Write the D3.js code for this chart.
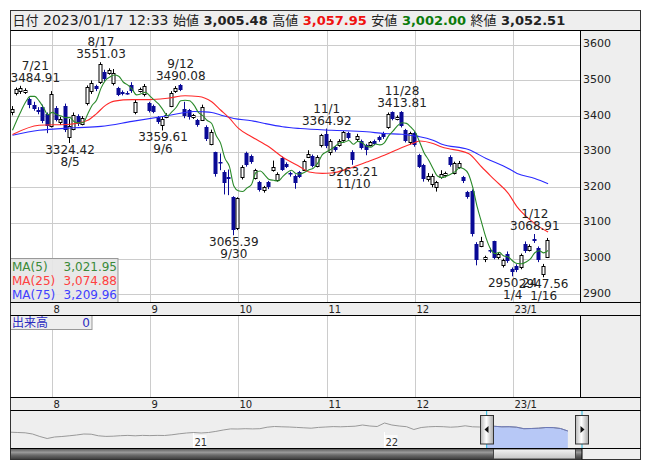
<!DOCTYPE html>
<html><head><meta charset="utf-8">
<script src="https://cdn.jsdelivr.net/npm/d3@7"></script>
<style>
body{margin:0;background:#fff;}
text{font-family:"DejaVu Sans","Noto Sans CJK JP",sans-serif;}
</style></head><body>
<svg id="c" width="653" height="470"></svg>
<script>
// ---------------- DATA ----------------
const dates = [
"2022-07-19","2022-07-20","2022-07-21","2022-07-22","2022-07-25","2022-07-26","2022-07-27","2022-07-28","2022-07-29",
"2022-08-01","2022-08-02","2022-08-03","2022-08-04","2022-08-05","2022-08-08","2022-08-09","2022-08-10","2022-08-12","2022-08-15","2022-08-16","2022-08-17","2022-08-18","2022-08-19","2022-08-22","2022-08-23","2022-08-24","2022-08-25","2022-08-26","2022-08-29","2022-08-30","2022-08-31",
"2022-09-01","2022-09-02","2022-09-05","2022-09-06","2022-09-07","2022-09-08","2022-09-09","2022-09-12","2022-09-13","2022-09-14","2022-09-15","2022-09-16","2022-09-20","2022-09-21","2022-09-22","2022-09-26","2022-09-27","2022-09-28","2022-09-29","2022-09-30",
"2022-10-03","2022-10-04","2022-10-05","2022-10-06","2022-10-07","2022-10-11","2022-10-12","2022-10-13","2022-10-14","2022-10-17","2022-10-18","2022-10-19","2022-10-20","2022-10-21","2022-10-24","2022-10-25","2022-10-26","2022-10-27","2022-10-28","2022-10-31",
"2022-11-01","2022-11-02","2022-11-04","2022-11-07","2022-11-08","2022-11-09","2022-11-10","2022-11-11","2022-11-14","2022-11-15","2022-11-16","2022-11-17","2022-11-18","2022-11-21","2022-11-22","2022-11-24","2022-11-25","2022-11-28","2022-11-29","2022-11-30",
"2022-12-01","2022-12-02","2022-12-05","2022-12-06","2022-12-07","2022-12-08","2022-12-09","2022-12-12","2022-12-13","2022-12-14","2022-12-15","2022-12-16","2022-12-19","2022-12-20","2022-12-21","2022-12-22","2022-12-23","2022-12-26","2022-12-27","2022-12-28","2022-12-29","2022-12-30",
"2023-01-04","2023-01-05","2023-01-06","2023-01-10","2023-01-11","2023-01-12","2023-01-13","2023-01-16","2023-01-17"];

const opens = [3412,3465,3470,3468,3448,3432,3418,3425,3405,
3372,3422,3382,3428,3340,3365,3400,3378,3436,3470,3484,3495,3525,3522,3492,3478,3468,3466,3488,3410,3470,3462,
3436,3428,3397,3376,3398,3428,3470,3486,3420,3416,3396,3388,3390,3370,3322,3298,3272,3242,3228,3172,
3085,3228,3296,3288,3226,3214,3192,3214,3248,3220,3282,3266,3240,3232,3242,3250,3285,3288,3260,3318,
3350,3298,3312,3318,3332,3352,3300,3335,3330,3318,3320,3330,3340,3352,3368,3410,3392,3412,3360,3328,
3352,3290,3262,3222,3208,3200,3228,3234,3285,3240,3258,3228,3186,3190,3042,3036,2998,3024,3048,3004,2982,3012,
2970,2980,2975,3040,3024,3055,3030,2958,3005.48];
const highs = [3428,3480,3484.91,3478,3452,3440,3425,3432,3410,
3470,3428,3398,3435,3392,3410,3405,3400,3486,3500,3488,3551.03,3530,3534,3532,3482,3472,3470,3495,3445,3480,3490,
3440,3432,3400,3398,3408,3470,3484,3490.08,3440,3420,3406,3392,3432,3374,3362,3300,3295,3248,3250,3175,
3172,3262,3300,3292,3252,3218,3204,3218,3275,3242,3286,3270,3244,3236,3246,3278,3304,3292,3290,3350,
3364.92,3335,3316,3335,3358,3356,3304,3350,3334,3322,3330,3334,3345,3356,3410,3413,3402,3413.81,3364,3356,
3356,3294,3266,3240,3238,3218,3248,3244,3290,3272,3274,3232,3190,3194,3046,3061,3008,3030,3050,3016,3000,3020,
2975,2984,3014,3048,3040,3068.91,3034,2985,3057.95];
const lows = [3402,3458,3462,3462,3422,3415,3405,3380,3352,
3368,3385,3375,3355,3324.42,3360,3372,3374,3430,3462,3470,3490,3498,3516,3486,3456,3458,3460,3465,3405,3466,3455,
3410,3408,3378,3359.61,3394,3425,3465,3470,3394,3390,3392,3370,3386,3330,3318,3230,3248,3180,3178,3065.39,
3080,3222,3258,3266,3222,3188,3185,3195,3244,3216,3246,3254,3230,3196,3226,3246,3282,3256,3256,3312,
3310,3290,3300,3314,3328,3334,3263.21,3330,3306,3290,3315,3318,3328,3336,3364,3388,3388,3368,3326,3320,
3314,3254,3216,3216,3200,3188,3224,3228,3258,3236,3252,3212,3168,3062,2981,3032,2990,3016,2998,2998,2975,2988,
2950.24,2962,2970,3016,3020,3044,2990,2947.56,3002.00];
const closes = [3420,3476,3478,3472,3430,3420,3412,3385,3372,
3462,3390,3392,3362,3372,3402,3378,3395,3482,3494,3476,3545,3505,3528,3522,3460,3463,3464,3470,3440,3475,3485,
3414,3412,3384,3392,3404,3466,3478,3474,3400,3398,3403,3376,3426,3335,3355,3236,3268,3212,3222,3080,
3170,3258,3262,3270,3248,3192,3200,3200,3258,3238,3250,3258,3236,3212,3230,3274,3294,3260,3285,3346,
3315,3330,3305,3330,3354,3338,3278,3345,3310,3305,3326,3322,3332,3340,3405,3392,3398,3372,3330,3352,
3320,3258,3222,3232,3232,3214,3236,3240,3262,3268,3268,3218,3172,3068,2995,3048,3004,3020,3003,3012,2996,2992,
2962,2968,3010,3020,3036,3048,2996,2980,3052.51];
// closes of the 4 sessions before the first visible one (for MA5)
const priorCloses = [3330,3345,3350,3355];

// MA25 / MA75 (session index, value)
const ma25Idx = [0,6,13,17,19,21,23,27,31,35,39,42,45,47,49,51,54,58,61,65,67,70,72,76,80,84,88,91,92,95,97,103,106,109,112,114,117,119,121];
const ma25Val = [3348,3374,3377,3388,3407,3430,3442,3446,3446,3450,3457,3455,3440,3417,3394,3366,3342,3313,3285,3257,3243,3239,3240,3253,3271,3290,3312,3326,3330,3323,3313,3295,3257,3220,3183,3145,3108,3089,3074.88];
const ma75Idx = [0,6,14,20,27,35,41,43,45,47,50,54,57,61,65,72,80,84,88,91,92,95,97,103,107,112,114,118,121];
const ma75Val = [3346,3360,3367,3371,3385,3401,3413,3412,3410,3403,3393,3387,3379,3370,3365,3360,3356,3351,3349,3344,3342,3332,3321,3306,3281,3253,3239,3225,3209.96];

const priceTicks = [2900,3000,3100,3200,3300,3400,3500,3600];
const monthStartIdx = [9,31,51,71,91,113];
const monthLabels = ["8","9","10","11","12","23/1"];

const highNoteIdx = [2,20,38,71,88,118];
const lowNoteIdx = [13,34,50,77,113,120];

const headerTime = "2023/01/17 12:33";
const headerLabels = ["始値","高値","安値","終値"];
const headerValues = [3005.48,3057.95,3002.00,3052.51];
const headerColors = ["#222","#f01010","#0a7a0a","#222"];

const maNames = ["MA(5)","MA(25)","MA(75)"];
const maLast = [3021.95,3074.88,3209.96];
const maColors = ["#2a8a2a","#ff2a2a","#2a2aff"];
const maTextColors = ["#3a8a3a","#ff4040","#4040ff"];

const volumeLabel = "出来高";
const volumeLast = 0;

// long-history navigator (every 14 days from 2020-01-22)
const navValues = [2880,2850,2820,2700,2450,2250,2400,2450,2520,2600,2700,2680,2520,2460,2480,2530,2560,2520,2560,2540,2560,2550,2620,2720,2800,2850,2800,2850,2960,3100,3210,3200,3230,3210,3230,3380,3450,3420,3400,3360,3320,3280,3360,3400,3440,3420,3450,3480,3600,3500,3450,3800,3600,3500,3430,3150,3350,3420,3450,3430,3380,3420,3520,3420,3400,3420,3470,3420,3430,3380,3230,3250,3280,3350,3340,3250,3000];
const navYearDates = ["2021-01-04","2022-01-04"];
const navYearLabels = ["21","22"];

// ---------------- LAYOUT ----------------
const svg = d3.select("#c");
const X0=10.5, XR=580.5, XE=640.5;
const T_HEAD=10.5, T_MAIN=30.5, T_B1=302.5, T_VOL=315.5, T_B2=397.5, T_NAV=410.5, T_SCR=448.5, T_END=459.5;
const parse = d3.timeParse("%Y-%m-%d");
const md = d3.timeFormat("%-m/%-d");
const f2 = d3.format(".2f");
const fc = d3.format(",.2f");

const x = d3.scaleLinear().domain([0, dates.length-1]).range([12.5, 548.1]);
const y = d3.scaleLinear().domain([2900,3600]).range([294.2,44.8]);

const defs = svg.append("defs");
defs.append("clipPath").attr("id","plotClip").append("rect")
  .attr("x",X0).attr("y",T_MAIN).attr("width",XR-X0).attr("height",T_B1-T_MAIN);

// backgrounds
svg.append("rect").attr("x",X0).attr("y",T_HEAD).attr("width",XE-X0).attr("height",T_END-T_HEAD).attr("fill","#eeeeee");
svg.append("rect").attr("x",X0).attr("y",T_MAIN).attr("width",XR-X0).attr("height",T_B1-T_MAIN).attr("fill","#fff");
svg.append("rect").attr("x",X0).attr("y",T_VOL).attr("width",XR-X0).attr("height",T_B2-T_VOL).attr("fill","#fff");

// header
let hx = 12.5;
function htext(str, size, weight, color, fam){
  const t = svg.append("text").attr("x",hx).attr("y",25).attr("font-size",size)
    .attr("font-weight",weight).attr("fill",color).text(str);
  if (fam) t.style("font-family",fam);
  hx += t.node().getComputedTextLength() + 4.5;
}
htext("日付",13,"normal","#222",'"Noto Sans CJK JP"');
htext(headerTime,14,"normal","#222");
headerLabels.forEach((l,k)=>{
  htext(l,13,"normal","#222",'"Noto Sans CJK JP"');
  htext(fc(headerValues[k]),13,"bold",headerColors[k]);
});

// grid main
const grid = svg.append("g").attr("stroke","#cccccc").attr("stroke-width",1);
priceTicks.forEach(t=>{
  const yy = Math.round(y(t))+0.5;
  grid.append("line").attr("x1",X0).attr("x2",XR).attr("y1",yy).attr("y2",yy);
});
monthStartIdx.forEach(i=>{
  const xx = Math.round(x(i))+0.5;
  grid.append("line").attr("x1",xx).attr("x2",xx).attr("y1",T_MAIN).attr("y2",T_B1);
  grid.append("line").attr("x1",xx).attr("x2",xx).attr("y1",T_VOL).attr("y2",T_B2);
});

// price axis labels
svg.append("g").selectAll("text").data(priceTicks).join("text")
  .attr("x",583).attr("y",t=>y(t)-1).attr("dominant-baseline","central")
  .attr("font-size",11).attr("fill","#222").text(t=>t);

// month labels in both bands
[ (T_B1+T_VOL)/2, (T_B2+T_NAV)/2 ].forEach(cy=>{
  svg.append("g").selectAll("text").data(monthStartIdx).join("text")
    .attr("x",i=>Math.round(x(i))+1.5).attr("y",cy).attr("dominant-baseline","central")
    .attr("font-size",10).attr("fill","#222").text((i,k)=>monthLabels[k]);
});

// candles
const UPC="#000", DNC="#0a0a96";
const cg = svg.append("g").attr("clip-path","url(#plotClip)");
const idx = d3.range(dates.length);
idx.forEach(i=>{
  const up = closes[i] >= opens[i];
  const cx = Math.round(x(i));
  const col = up ? UPC : DNC;
  cg.append("line").attr("x1",cx-0.5).attr("x2",cx-0.5)
    .attr("y1",y(highs[i])).attr("y2",y(lows[i])).attr("stroke",col).attr("stroke-width",1);
  const yt = y(Math.max(opens[i],closes[i])), yb = y(Math.min(opens[i],closes[i]));
  if (up) {
    cg.append("rect").attr("x",cx-2).attr("y",Math.round(yt)+0.5)
      .attr("width",3).attr("height",Math.max(1,Math.round(yb)-Math.round(yt)))
      .attr("fill","#fff").attr("stroke","#000").attr("stroke-width",1);
  } else {
    cg.append("rect").attr("x",cx-2.5).attr("y",Math.round(yt))
      .attr("width",4).attr("height",Math.max(1.5,Math.round(yb)-Math.round(yt)))
      .attr("fill",DNC);
  }
});

// moving averages
const allCloses = priorCloses.concat(closes);
const ma5 = idx.map(i=>d3.mean(allCloses.slice(i, i+5)));
const lineD = d3.line().x(d=>x(d[0])).y(d=>y(d[1]));
const lineM = d3.line().x(d=>x(d[0])).y(d=>y(d[1])).curve(d3.curveMonotoneX);
const mg = svg.append("g").attr("clip-path","url(#plotClip)").attr("fill","none").attr("stroke-width",1.1);
mg.append("path").attr("d",lineM(d3.zip(ma75Idx,ma75Val))).attr("stroke",maColors[2]);
mg.append("path").attr("d",lineM(d3.zip(ma25Idx,ma25Val))).attr("stroke",maColors[1]);
mg.append("path").attr("d",lineM(idx.map(i=>[i,ma5[i]]))).attr("stroke",maColors[0]);

// annotations
function note(i, lines, baseY){
  const g = svg.append("g");
  const ts = lines.map((s,k)=>g.append("text").attr("y",baseY[k]).attr("text-anchor","middle")
      .attr("font-size",12).attr("fill","#222").text(s));
  const w = d3.max(ts, t=>t.node().getComputedTextLength());
  let cx = x(i);
  cx = Math.max(cx, X0 + w/2);
  cx = Math.min(cx, XR - w/2 - 1);
  ts.forEach(t=>t.attr("x",cx));
}
highNoteIdx.forEach(i=>{
  const hy = y(highs[i]);
  note(i,[md(parse(dates[i])), f2(highs[i])],[hy-16, hy-4]);
});
lowNoteIdx.forEach(i=>{
  const ly = y(lows[i]);
  note(i,[f2(lows[i]), md(parse(dates[i]))],[ly+11, ly+23]);
});

// MA legend
const lg = svg.append("g");
lg.append("rect").attr("x",X0).attr("y",258.5).attr("width",107.5).attr("height",T_B1-258.5)
  .attr("fill","#e6e6e6").attr("fill-opacity",0.92).attr("stroke","#999");
maNames.forEach((n,k)=>{
  lg.append("text").attr("x",12).attr("y",271+k*13.8).attr("font-size",12).attr("fill",maTextColors[k]).text(n);
  lg.append("text").attr("x",117).attr("y",271+k*13.8).attr("text-anchor","end").attr("font-size",12).attr("fill",maTextColors[k]).text(fc(maLast[k]));
});

// volume legend
svg.append("rect").attr("x",X0).attr("y",T_VOL).attr("width",81.5).attr("height",14)
  .attr("fill","#eeeeee").attr("stroke","#999");
svg.append("text").attr("x",12).attr("y",327).attr("font-size",12).attr("fill","#2b2bc0")
  .style("font-family",'"Noto Sans CJK JP"').text(volumeLabel);
svg.append("text").attr("x",90).attr("y",327).attr("text-anchor","end").attr("font-size",12).attr("fill","#2b2bc0").text(volumeLast);

// ---------------- NAVIGATOR ----------------
const navStart = parse("2020-01-22");
const navDates = navValues.map((v,k)=>d3.timeDay.offset(navStart, 14*k));
const navX = d3.scaleTime().domain([navStart, parse("2023-01-17")]).range([10.5, 582]);
const navY = d3.scaleLinear().domain([1250,5050]).range([T_SCR, T_NAV]);
const selStart = navX(parse(dates[0])), selEnd = navX(parse(dates[dates.length-1]));
const navPts = d3.zip(navDates, navValues);
defs.append("clipPath").attr("id","selClip").append("rect")
  .attr("x",selStart).attr("y",T_NAV).attr("width",selEnd-selStart).attr("height",T_SCR-T_NAV);

// year marks
navYearDates.forEach((d,k)=>{
  const xx = Math.round(navX(parse(d)))+0.5;
  svg.append("rect").attr("x",xx).attr("y",435).attr("width",13).attr("height",T_SCR-435).attr("fill","#fafafa");
  svg.append("line").attr("x1",xx).attr("x2",xx).attr("y1",432).attr("y2",T_SCR).attr("stroke","#fff");
  svg.append("text").attr("x",xx+1).attr("y",446).attr("font-size",10).attr("fill","#333").text(navYearLabels[k]);
});
svg.append("path").attr("d",d3.area().x(d=>navX(d[0])).y0(T_SCR).y1(d=>navY(d[1]))(navPts))
  .attr("fill","#b7c8f6").attr("clip-path","url(#selClip)");
svg.append("path").attr("d",d3.line().x(d=>navX(d[0])).y(d=>navY(d[1]))(navPts))
  .attr("fill","none").attr("stroke","#999").attr("stroke-width",1);
svg.append("path").attr("d",d3.line().x(d=>navX(d[0])).y(d=>navY(d[1]))(navPts))
  .attr("fill","none").attr("stroke","#6b78b8").attr("stroke-width",1).attr("clip-path","url(#selClip)");
[selStart, selEnd].forEach(sx=>{
  svg.append("line").attr("x1",sx).attr("x2",sx).attr("y1",T_NAV).attr("y2",T_SCR)
    .attr("stroke","#22b8e0").attr("stroke-width",1);
});

// gradients
const hgrad = defs.append("linearGradient").attr("id","hg").attr("x1",0).attr("x2",1).attr("y1",0).attr("y2",0);
hgrad.append("stop").attr("offset","0%").attr("stop-color","#b8b8b8");
hgrad.append("stop").attr("offset","45%").attr("stop-color","#ffffff");
hgrad.append("stop").attr("offset","100%").attr("stop-color","#a8a8a8");
const sgrad = defs.append("linearGradient").attr("id","sg").attr("x1",0).attr("x2",0).attr("y1",0).attr("y2",1);
sgrad.append("stop").attr("offset","0%").attr("stop-color","#555");
sgrad.append("stop").attr("offset","35%").attr("stop-color","#9a9a9a");
sgrad.append("stop").attr("offset","60%").attr("stop-color","#6a6a6a");
sgrad.append("stop").attr("offset","100%").attr("stop-color","#3a3a3a");
const tgrad = defs.append("linearGradient").attr("id","tg").attr("x1",0).attr("x2",0).attr("y1",0).attr("y2",1);
tgrad.append("stop").attr("offset","0%").attr("stop-color","#f4f4f4");
tgrad.append("stop").attr("offset","100%").attr("stop-color","#c4c4c4");

// handles
[[selStart,-1],[selEnd,1]].forEach(([sx,dir])=>{
  svg.append("rect").attr("x",Math.round(sx)-6.5).attr("y",415.5).attr("width",13).attr("height",28.5)
    .attr("fill","url(#hg)").attr("stroke","#333").attr("stroke-width",1);
  const cx = Math.round(sx), cy = 429.5;
  svg.append("path").attr("d",`M${cx+dir*2.5},${cy} L${cx-dir*1.5},${cy-3.5} L${cx-dir*1.5},${cy+3.5} Z`).attr("fill","#111");
});

// scrollbar
svg.append("rect").attr("x",X0).attr("y",T_SCR).attr("width",582-X0).attr("height",T_END-T_SCR).attr("fill","url(#sg)");
svg.append("rect").attr("x",Math.round(selStart)+6.5).attr("y",T_SCR+0.5).attr("width",Math.round(selEnd)-Math.round(selStart)-13).attr("height",T_END-T_SCR-1)
  .attr("fill","url(#tg)").attr("stroke","#444");

// frame lines
const fr = svg.append("g").attr("stroke","#000").attr("stroke-width",1).attr("fill","none");
fr.append("rect").attr("x",X0).attr("y",T_HEAD).attr("width",XE-X0).attr("height",T_END-T_HEAD).attr("stroke","#333");
[T_MAIN,T_B1,T_VOL,T_B2,T_NAV,T_SCR].forEach(yy=>{
  fr.append("line").attr("x1",X0).attr("x2",XE).attr("y1",yy).attr("y2",yy);
});
fr.append("line").attr("x1",XR).attr("x2",XR).attr("y1",T_MAIN).attr("y2",T_B1);
fr.append("line").attr("x1",XR).attr("x2",XR).attr("y1",T_VOL).attr("y2",T_B2);
fr.append("line").attr("x1",582).attr("x2",582).attr("y1",T_SCR).attr("y2",T_END);
</script>
</body></html>
